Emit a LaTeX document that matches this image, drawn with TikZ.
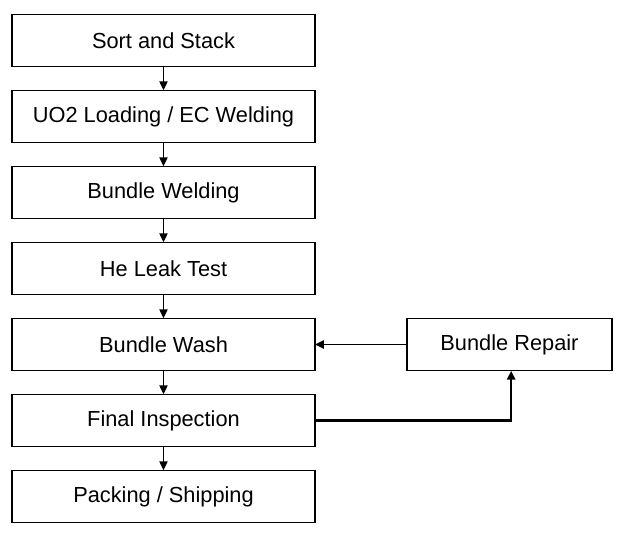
\documentclass[tikz,border=0pt]{standalone}
\usepackage{fontspec}
\setmainfont{Liberation Sans}
\usetikzlibrary{positioning,arrows.meta}
\begin{document}
\begin{tikzpicture}[
  stepbox/.style={draw,line width=1pt,outer sep=0pt,minimum width=9.09cm,minimum height=1.58cm,inner sep=0pt,font=\fontsize{18.6}{22}\selectfont},
  flow/.style={-{Triangle[length=7.5pt,width=7pt]},line width=1.2pt},
  node distance=0.7cm]
\useasboundingbox (0,0) rectangle (18.75,-16.17);
\node[stepbox] (sort) at (4.905,-1.215) {Sort and Stack};
\node[stepbox,below=of sort] (load) {UO2 Loading / EC Welding};
\node[stepbox,below=of load] (weld) {Bundle Welding};
\node[stepbox,below=of weld] (leak) {He Leak Test};
\node[stepbox,below=of leak] (wash) {Bundle Wash};
\node[stepbox,below=of wash] (insp) {Final Inspection};
\node[stepbox,below=of insp] (pack) {Packing / Shipping};
\node[stepbox,minimum width=6.15cm,right=2.76cm of wash] (repair) {Bundle Repair};
\draw[flow] (sort) -- (load);
\draw[flow] (load) -- (weld);
\draw[flow] (weld) -- (leak);
\draw[flow] (leak) -- (wash);
\draw[flow] (wash) -- (insp);
\draw[flow] (insp) -- (pack);
\draw[flow] (repair) -- (wash);
\draw[flow,line width=2.2pt] (insp.east) -| ([xshift=0.05cm]repair.south);
\end{tikzpicture}
\end{document}
